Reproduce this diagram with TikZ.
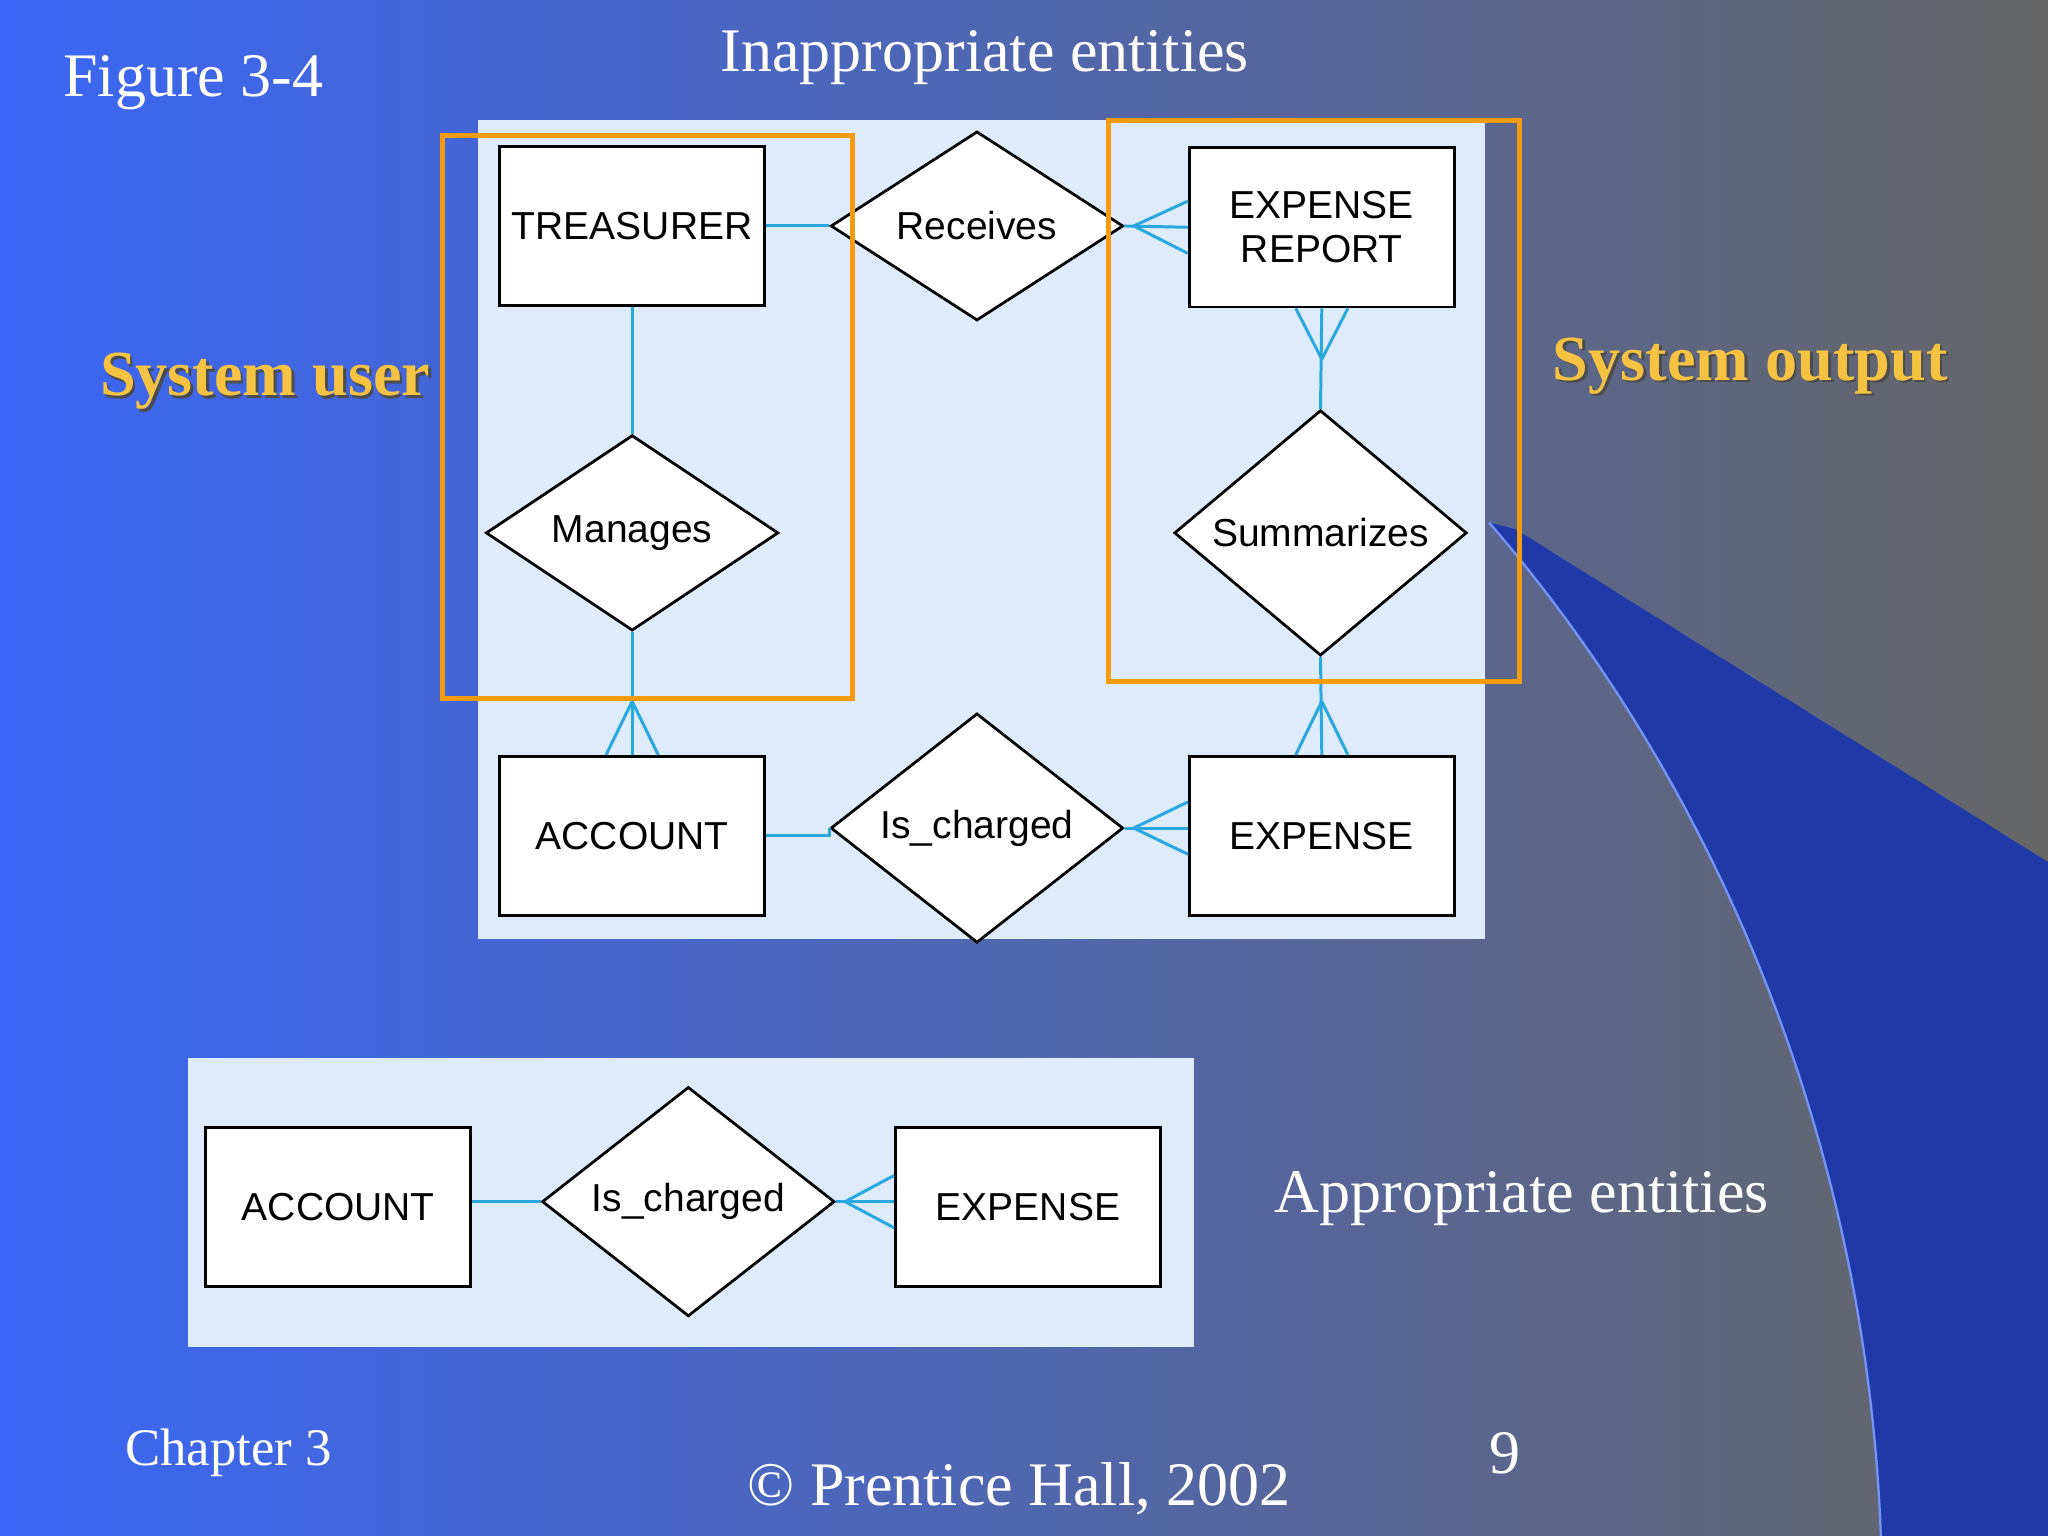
\documentclass[tikz,border=0pt]{standalone}
\usepackage{fontspec}
\setmainfont{Liberation Serif}
\newfontfamily\diagfont{Liberation Sans}
\usetikzlibrary{shapes.geometric,calc}
\definecolor{bgL}{HTML}{3A66F5}
\definecolor{bgR}{HTML}{666666}
\definecolor{swoosh}{HTML}{1F3AA8}
\definecolor{panel}{HTML}{DDEBFA}
\definecolor{link}{HTML}{29A8E0}
\definecolor{orng}{HTML}{F39C12}
\definecolor{yel}{HTML}{F5C242}
\tikzset{
 ent/.style={draw=black,line width=1.2pt,fill=white,minimum width=4.06cm,minimum height=2.44cm,inner sep=0pt,font=\diagfont\fontsize{17}{19}\selectfont,align=center},
 rel/.style={diamond,draw=black,line width=1.2pt,fill=white,minimum width=4.48cm,minimum height=2.56cm,inner sep=0pt,font=\diagfont\fontsize{17}{19}\selectfont},
 lk/.style={draw=link,line width=1.3pt},
 hl/.style={draw=orng,line width=2.2pt},
 wt/.style={text=white,font=\fontsize{27}{30}\selectfont},
 yt/.style={font=\bfseries\fontsize{28}{30}\selectfont}
}
\begin{document}
\begin{tikzpicture}[x=0.02cm,y=-0.02cm]
\useasboundingbox (0,0) rectangle (1568,1176);
\shade[left color=bgL,right color=bgR] (0,0) rectangle (1568,1176);
\fill[swoosh] (1140,400) .. controls (1330,620) and (1430,900) .. (1440,1176) -- (1568,1176) -- (1568,660) -- (1160,405) -- cycle;
\draw[bgL!70!white,line width=1pt] (1140,400) .. controls (1330,620) and (1430,900) .. (1440,1176);
\fill[panel] (366,92) rectangle (1137,719);
\fill[panel] (144,810) rectangle (914,1031);
% top diagram
\node[ent] (tr) at (484,173) {TREASURER};
\node[rel] (rc) at (748,173) {Receives};
\node[ent] (er) at (1012,174) {EXPENSE\\REPORT};
\node[rel] (mg) at (484,408) {Manages};
\node[rel] (sm) at (1011,408) {Summarizes};
\node[ent] (ac) at (484,640) {ACCOUNT};
\node[rel] (ic) at (748,634) {Is\_charged};
\node[ent] (ex) at (1012,640) {EXPENSE};
\draw[lk] (tr.east) -- (rc.west);
\draw[lk] (rc.east) -- (er.west);
\coordinate (c1) at (868,173);
\draw[lk] (c1) -- ($(er.west)+(0,-20)$) (c1) -- ($(er.west)+(0,20)$);
\draw[lk] (tr.south) -- (mg.north);
\draw[lk] (mg.south) -- (ac.north);
\coordinate (c2) at (484,537);
\draw[lk] (c2) -- ($(ac.north)+(-20,0)$) (c2) -- ($(ac.north)+(20,0)$);
\draw[lk] (er.south) -- (sm.north);
\coordinate (c3) at (1012,275);
\draw[lk] (c3) -- ($(er.south)+(-20,0)$) (c3) -- ($(er.south)+(20,0)$);
\draw[lk] (sm.south) -- (ex.north);
\coordinate (c4) at (1012,537);
\draw[lk] (c4) -- ($(ex.north)+(-20,0)$) (c4) -- ($(ex.north)+(20,0)$);
\draw[lk] (ac.east) -- (ac.east -| ic.west) -- (ic.west);
\draw[lk] (ic.east) -- (ex.west |- ic.east);
\coordinate (c5) at (868,634);
\draw[lk] (c5) -- ($(ex.west |- ic.east)+(0,-20)$) (c5) -- ($(ex.west |- ic.east)+(0,20)$);
% bottom diagram
\node[ent] (ac2) at (259,924) {ACCOUNT};
\node[rel] (ic2) at (527,920) {Is\_charged};
\node[ent] (ex2) at (787,924) {EXPENSE};
\draw[lk] (ac2.east |- ic2.west) -- (ic2.west);
\draw[lk] (ic2.east) -- (ex2.west |- ic2.east);
\coordinate (c6) at (647,920);
\draw[lk] (c6) -- ($(ex2.west |- ic2.east)+(0,-20)$) (c6) -- ($(ex2.west |- ic2.east)+(0,20)$);
% highlights
\draw[hl] (339,104) rectangle (653,535);
\draw[hl] (849,92) rectangle (1163,522);
% texts
\node[wt] (t1) at (148,63) {Figure 3-4};
\node[wt] (t2) at (754,44) {Inappropriate entities};
\node[yt,text=black!70] at (205,294) {System user};
\node[yt,text=yel] (t3) at (203,292) {System user};
\node[yt,text=black!70] at (1342,282) {System output};
\node[yt,text=yel] (t4) at (1340,280) {System output};
\node[wt] (t5) at (1165,918) {Appropriate entities};
\node[wt,font=\fontsize{23}{26}\selectfont] (t6) at (175,1112) {Chapter 3};
\node[wt] (t7) at (780,1140) {© Prentice Hall, 2002};
\node[wt] (t8) at (1152,1113) {9};
\end{tikzpicture}
\end{document}
